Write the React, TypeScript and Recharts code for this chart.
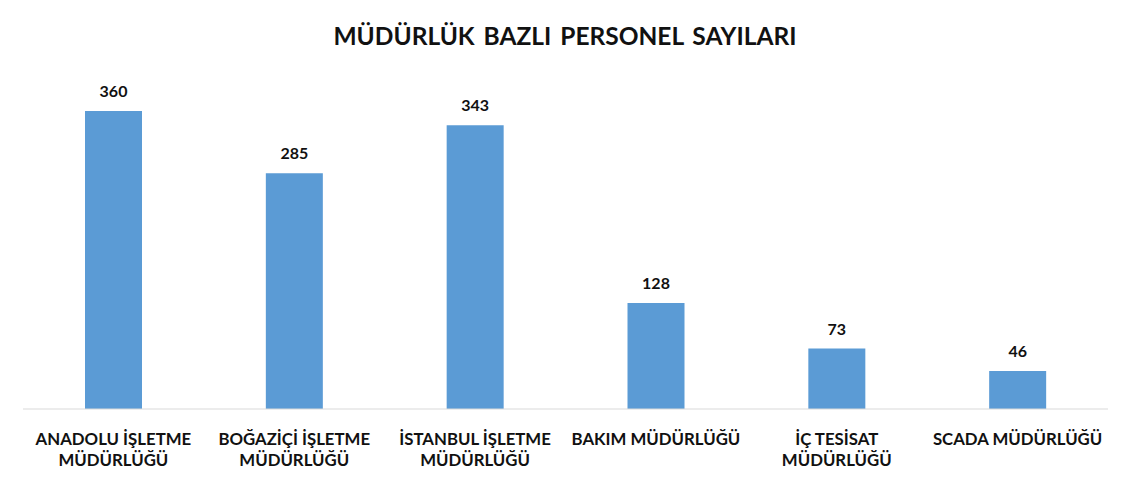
import { BarChart, Bar, XAxis, YAxis, LabelList } from 'recharts';

// ─── Veriler ────────────────────────────────────────────────
const categories = [
  'ANADOLU İŞLETME\nMÜDÜRLÜĞÜ',
  'BOĞAZİÇİ İŞLETME\nMÜDÜRLÜĞÜ',
  'İSTANBUL İŞLETME\nMÜDÜRLÜĞÜ',
  'BAKIM MÜDÜRLÜĞÜ',
  'İÇ TESİSAT\nMÜDÜRLÜĞÜ',
  'SCADA MÜDÜRLÜĞÜ',
];
const personel = [360, 285, 343, 128, 73, 46];

const data = categories.map((name, i) => ({ name, value: personel[i] }));

const FONT = 'Lato, "Open Sans", sans-serif';

function CategoryTick({ x, y, payload }: { x?: number; y?: number; payload?: { value: string } }) {
  const lines = (payload?.value ?? '').split('\n');
  return (
    <text
      x={x}
      y={(y ?? 0) + 28}
      textAnchor="middle"
      fill="#111"
      fontFamily={FONT}
      fontWeight={700}
      fontSize={16.8}
    >
      {lines.map((l, i) => (
        <tspan key={i} x={x} dy={i === 0 ? 0 : 21}>{l}</tspan>
      ))}
    </text>
  );
}

export default function App() {
  return (
    <div style={{ position: 'absolute', left: 0, top: 0, width: 1130, height: 483, background: '#fff' }}>
      <div style={{
        position: 'absolute', left: 0, top: 21, width: 1130, textAlign: 'center',
        fontFamily: FONT, fontWeight: 700, fontSize: 24.5, color: '#111', wordSpacing: 3,
      }}>
        MÜDÜRLÜK BAZLI PERSONEL SAYILARI
      </div>
      <BarChart
        width={1130}
        height={483}
        data={data}
        margin={{ top: 78, right: 22, bottom: 0, left: 23 }}
      >
        <XAxis
          dataKey="name"
          interval={0}
          height={74}
          tickLine={false}
          axisLine={{ stroke: '#d9d9d9', strokeWidth: 1 }}
          tick={<CategoryTick />}
        />
        <YAxis hide domain={[0, 400]} />
        <Bar dataKey="value" fill="#5b9bd5" barSize={57} isAnimationActive={false}>
          <LabelList
            dataKey="value"
            position="top"
            offset={14}
            fill="#111"
            fontFamily={FONT}
            fontWeight={700}
            fontSize={16}
          />
        </Bar>
      </BarChart>
    </div>
  );
}
